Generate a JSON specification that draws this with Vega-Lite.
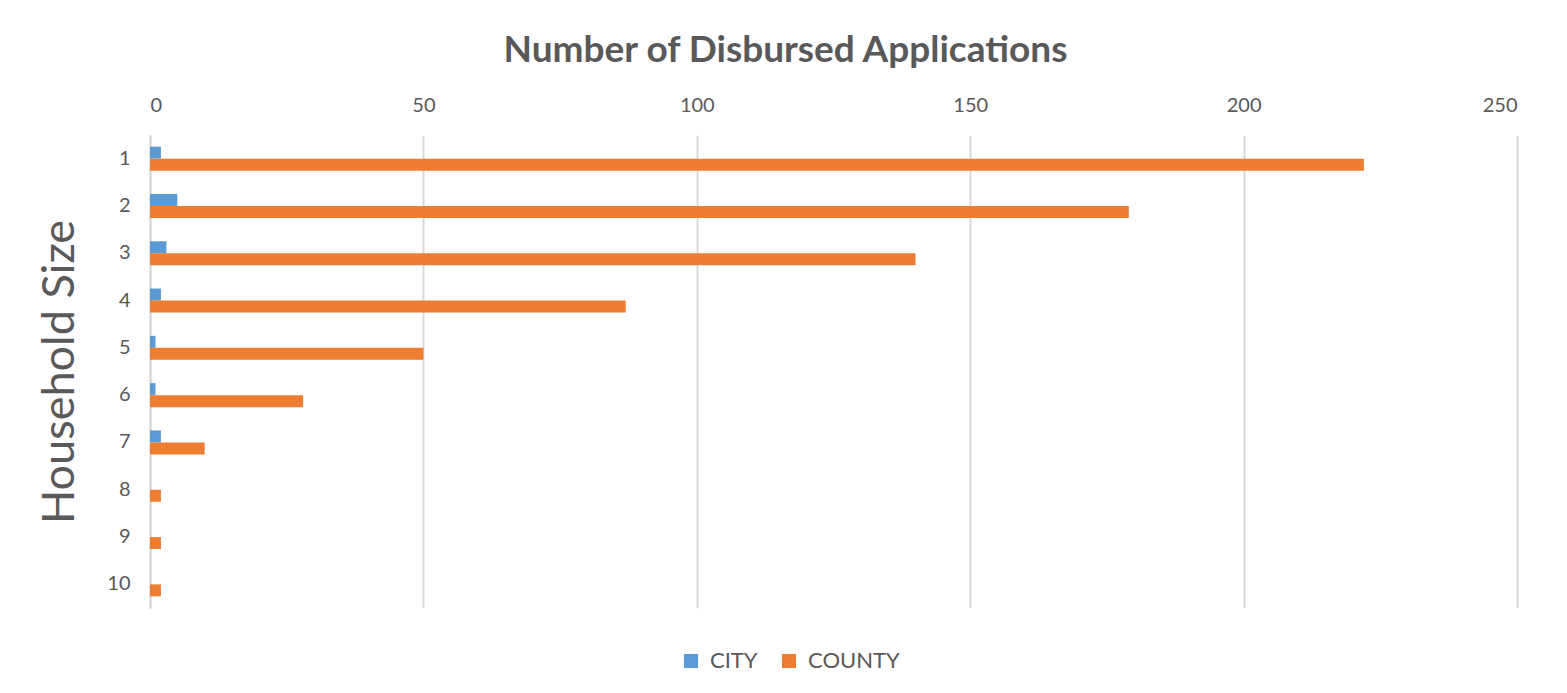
{
  "$schema": "https://vega.github.io/schema/vega-lite/v6.json",
  "autosize": {"type": "none"},
  "width": 1367,
  "height": 473,
  "padding": {"left": 150, "top": 135, "right": 50, "bottom": 85},
  "background": "white",
  "title": {
    "text": "Number of Disbursed Applications",
    "font": "Lato",
    "fontSize": 37,
    "fontWeight": "bold",
    "color": "#595959",
    "anchor": "middle",
    "dx": -48,
    "offset": 25
  },
  "data": {
    "values": [
      {"size": 1, "series": "CITY", "value": 2},
      {"size": 1, "series": "COUNTY", "value": 222},
      {"size": 2, "series": "CITY", "value": 5},
      {"size": 2, "series": "COUNTY", "value": 179},
      {"size": 3, "series": "CITY", "value": 3},
      {"size": 3, "series": "COUNTY", "value": 140},
      {"size": 4, "series": "CITY", "value": 2},
      {"size": 4, "series": "COUNTY", "value": 87},
      {"size": 5, "series": "CITY", "value": 1},
      {"size": 5, "series": "COUNTY", "value": 50},
      {"size": 6, "series": "CITY", "value": 1},
      {"size": 6, "series": "COUNTY", "value": 28},
      {"size": 7, "series": "CITY", "value": 2},
      {"size": 7, "series": "COUNTY", "value": 10},
      {"size": 8, "series": "CITY", "value": 0},
      {"size": 8, "series": "COUNTY", "value": 2},
      {"size": 9, "series": "CITY", "value": 0},
      {"size": 9, "series": "COUNTY", "value": 2},
      {"size": 10, "series": "CITY", "value": 0},
      {"size": 10, "series": "COUNTY", "value": 2}
    ]
  },
  "mark": {"type": "bar"},
  "encoding": {
    "y": {
      "field": "size",
      "type": "ordinal",
      "scale": {"paddingInner": 0, "paddingOuter": 0},
      "axis": {
        "title": "Household Size",
        "titleFont": "Lato",
        "titleFontSize": 45,
        "titleFontWeight": "normal",
        "titleColor": "#595959",
        "titlePadding": 24,
        "labelFont": "Lato",
        "labelFontSize": 20,
        "labelColor": "#595959",
        "labelPadding": 20,
        "labelAngle": 0,
        "ticks": false,
        "domain": true,
        "domainColor": "#d9d9d9",
        "domainWidth": 2,
        "grid": false
      }
    },
    "yOffset": {
      "field": "series",
      "type": "nominal",
      "scale": {"paddingInner": 0, "paddingOuter": 0.97}
    },
    "x": {
      "field": "value",
      "type": "quantitative",
      "scale": {"domain": [0, 250], "nice": false},
      "axis": {
        "orient": "top",
        "title": null,
        "values": [0, 50, 100, 150, 200, 250],
        "labelFont": "Lato",
        "labelFontSize": 20,
        "labelColor": "#595959",
        "labelPadding": 20,
        "ticks": false,
        "domain": false,
        "grid": true,
        "gridColor": "#d9d9d9",
        "gridWidth": 2
      }
    },
    "color": {
      "field": "series",
      "type": "nominal",
      "scale": {"domain": ["CITY", "COUNTY"], "range": ["#5b9bd5", "#ed7d31"]},
      "legend": {
        "title": null,
        "orient": "none",
        "direction": "horizontal",
        "legendX": 530,
        "legendY": 515,
        "symbolType": "square",
        "symbolSize": 200,
        "symbolStrokeWidth": 0,
        "labelFont": "Lato",
        "labelFontSize": 22,
        "labelColor": "#595959",
        "columnPadding": 20,
        "labelOffset": 8
      }
    }
  },
  "config": {
    "view": {"stroke": null}
  }
}
